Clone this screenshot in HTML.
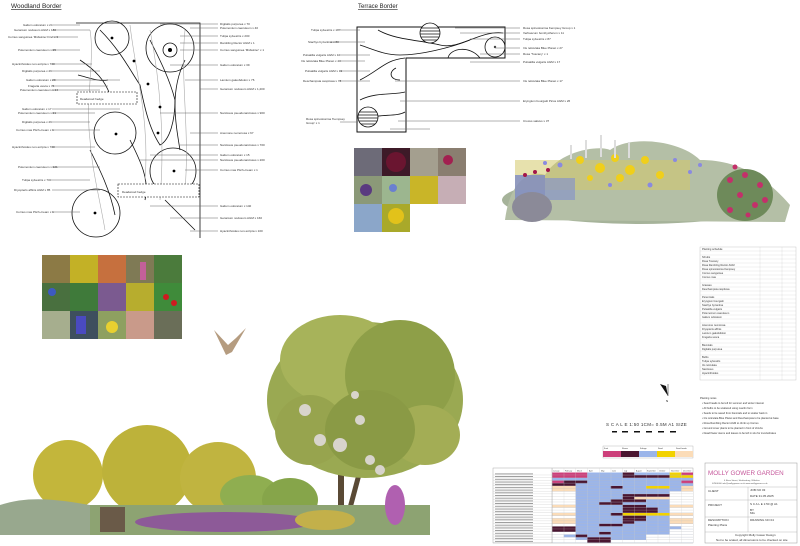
<!DOCTYPE html>
<html><head><meta charset="utf-8"><style>
html,body{margin:0;padding:0;background:#fff;}
svg{display:block;font-family:"Liberation Sans",sans-serif;}
.t{font-size:3px;fill:#333}
.l{stroke:#666;stroke-width:.5}
</style></head><body>
<svg width="800" height="546" viewBox="0 0 800 546" xmlns="http://www.w3.org/2000/svg">
<defs>
<pattern id="rl" x="0" y="472.5" width="10" height="2.7" patternUnits="userSpaceOnUse"><rect x="0" y="2.45" width="10" height=".25" fill="#bbb"/></pattern>
<pattern id="cl" x="552" y="0" width="11.75" height="10" patternUnits="userSpaceOnUse"><rect x="0" y="0" width=".25" height="10" fill="#ccc"/></pattern>
<pattern id="nm" x="494" y="472.5" width="60" height="2.7" patternUnits="userSpaceOnUse"><rect x="1" y="1" width="38" height=".8" fill="#888"/></pattern>
</defs>
<rect width="800" height="546" fill="#fff"/>
<!-- Woodland border -->
<text x="11" y="8" font-size="6.5" fill="#222" text-decoration="underline">Woodland Border</text>
<g fill="none" stroke="#111" stroke-width=".8">
<path d="M76 23 H200 V238"/>
<circle cx="112" cy="38" r="17"/><circle cx="170" cy="48" r="24"/><circle cx="170" cy="50" r="7"/>
<circle cx="115" cy="133" r="21"/><circle cx="173" cy="171" r="23"/><circle cx="96" cy="213" r="24"/>
<path d="M100 30 C120 50 130 70 140 85 C145 110 150 130 160 145 C170 140 175 120 175 100 C170 80 160 60 150 40"/>
<path d="M80 60 C95 70 105 80 110 95 M78 75 C90 78 100 82 108 80 M90 150 C100 170 110 190 115 215 M130 140 C140 160 150 180 145 200"/>
<path d="M185 60 C170 90 175 120 180 150 M165 200 C175 210 185 220 195 230"/>
</g>
<g fill="none" stroke="#aaa" stroke-width=".6">
<path d="M90 30 C95 60 85 100 90 140 C92 170 100 200 105 230"/><path d="M130 25 C135 70 150 120 145 180"/><path d="M150 30 C160 80 165 140 160 200"/><path d="M185 30 C180 80 190 130 185 190"/>
</g>
<g fill="#000"><circle cx="112" cy="38" r="1.4"/><circle cx="170" cy="50" r="2"/><circle cx="134" cy="61" r="1.4"/><circle cx="148" cy="84" r="1.4"/><circle cx="160" cy="107" r="1.4"/><circle cx="158" cy="133" r="1.4"/><circle cx="116" cy="134" r="1.4"/><circle cx="174" cy="171" r="1.4"/><circle cx="95" cy="213" r="1.4"/></g>
<rect x="77" y="92" width="60" height="12" fill="#fff" stroke="#111" stroke-width=".6" stroke-dasharray="2 1"/>
<text x="80" y="100" class="t">Deadwood hedge</text>
<rect x="118" y="184" width="81" height="13" fill="#fff" stroke="#111" stroke-width=".6" stroke-dasharray="2 1"/>
<text x="122" y="193" class="t">Deadwood hedge</text>
<g class="l">
<path d="M53 25H80M53 30H90M52 37H78M52 50H80M52 64H92M52 71H100M52 80H120M52 86H108M52 90H100M52 109H120M52 113H95M52 122H90M52 130H100M52 147H95M52 167H100M52 180H90M52 190H100M52 212H80"/>
<path d="M160 24H218M190 28H218M180 36H218M180 43H218M180 50H218M170 65H218M185 80H218M200 89H218M160 113H218M190 133H218M180 145H218M150 155H218M140 160H218M185 170H218M150 206H218M170 218H218M190 231H218"/>
</g>
<g class="t">
<text x="23" y="26">Galium odoratum x 24</text><text x="14" y="31">Geranium nodosum AGM x 180</text><text x="8" y="38">Cornus sanguinea 'Midwinter Fire' x 3</text><text x="18" y="51">Polemonium caeruleum x 25</text><text x="12" y="65">Hyacinthoides non-scripta x 700</text><text x="22" y="72">Digitalis purpurea x 29</text><text x="26" y="81">Galium odoratum x 29</text><text x="28" y="87">Fragaria vesca x 74</text><text x="20" y="91">Polemonium caeruleum x 24</text><text x="22" y="110">Galium odoratum x 17</text><text x="18" y="114">Polemonium caeruleum x 21</text><text x="22" y="123">Digitalis purpurea x 29</text><text x="16" y="131">Cornus mas Pitch-cream x 1</text><text x="12" y="148">Hyacinthoides non-scripta x 700</text><text x="18" y="168">Polemonium caeruleum x 121</text><text x="22" y="181">Tulipa sylvestris x 700</text><text x="14" y="191">Dryopteris affinis AGM x 85</text><text x="16" y="213">Cornus mas Pitch-cream x 1</text>
<text x="220" y="25">Digitalis purpurea x 70</text><text x="220" y="29">Polemonium caeruleum x 40</text><text x="220" y="37">Tulipa sylvestris x 200</text><text x="220" y="44">Rambling Rector AGM x 1</text><text x="220" y="51">Cornus sanguinea 'Midwinter' x 1</text><text x="220" y="66">Galium odoratum x 39</text><text x="220" y="81">Lamium galeobdolon x 76</text><text x="220" y="90">Geranium nodosum AGM x 1,200</text><text x="220" y="114">Narcissus pseudonarcissus x 900</text><text x="220" y="134">Anemone nemorosa x 67</text><text x="220" y="146">Narcissus pseudonarcissus x 700</text><text x="220" y="156">Galium odoratum x 15</text><text x="220" y="161">Narcissus pseudonarcissus x 200</text><text x="220" y="171">Cornus mas Pitch-cream x 1</text><text x="220" y="207">Galium odoratum x 140</text><text x="220" y="219">Geranium nodosum AGM x 160</text><text x="220" y="232">Hyacinthoides non-scripta x 100</text>
</g>
<!-- Terrace border -->
<text x="358" y="8" font-size="6" fill="#222" text-decoration="underline">Terrace Border</text>
<path d="M357 27H505V58H406V132H357Z" fill="none" stroke="#111" stroke-width="1"/>
<g fill="none" stroke="#111" stroke-width=".8">
<path d="M378 30C395 40 420 40 440 45C460 50 480 30 503 33"/><path d="M360 45C375 50 385 55 400 55C420 55 450 48 470 40"/><path d="M360 80C380 70 385 60 405 58"/><path d="M360 100C375 92 395 95 405 92"/><path d="M360 122C375 112 395 118 405 112"/><path d="M448 58C450 48 470 45 480 58"/>
<circle cx="495" cy="47" r="10"/><path d="M400 80C390 80 388 72 396 68"/>
</g>
<circle cx="495" cy="47" r="1.2" fill="#444"/>
<g fill="#fff" stroke="#111" stroke-width=".8"><circle cx="430" cy="33" r="10"/><circle cx="368" cy="117" r="10"/></g>
<g stroke="#111" stroke-width=".7"><path d="M421 28H439M420 31H440M420 34H440M421 37H439M423 40H437M359 112H377M358 115H378M358 118H378M359 121H377M361 124H375"/></g>
<g class="l"><path d="M340 30H360M330 42H365M340 55H370M340 61H365M340 71H370M340 81H370M340 122H358M455 28H520M460 33H520M470 39H520M495 48H520M480 54H520M470 62H520M395 81H520M400 101H520M398 121H520M390 129H430"/></g>
<g class="t">
<text x="311" y="31">Tulipa sylvestris x 187</text><text x="308" y="43">Stachys byzantina x 80</text><text x="303" y="56">Pulsatilla vulgaris AGM x 10</text><text x="301" y="62">Iris reticulata Blue Planet x 40</text><text x="305" y="72">Pulsatilla vulgaris AGM x 19</text><text x="303" y="82">Deschampsia cespitosa x 78</text><text x="306" y="120">Rosa spinosissima 'Kempsey</text><text x="306" y="124">Group' x 1</text>
<text x="523" y="29">Rosa spinosissima Kempsey Group x 1</text><text x="523" y="34">Verbascum bombyciferum x 11</text><text x="523" y="40">Tulipa sylvestris x 87</text><text x="523" y="49">Iris reticulata Blue Planet x 27</text><text x="523" y="55">Rosa 'Tuscany' x 1</text><text x="523" y="63">Pulsatilla vulgaris AGM x 17</text><text x="523" y="82">Iris reticulata Blue Planet x 17</text><text x="523" y="102">Eryngium bourgatii Picos AGM x 26</text><text x="523" y="122">Crocus sativus x 37</text>
</g>
<!-- Terrace photo grid -->
<g>
<rect x="354" y="148" width="28" height="28" fill="#6d6b78"/><rect x="382" y="148" width="28" height="28" fill="#3d1a28"/><circle cx="396" cy="162" r="10" fill="#6a1530"/><rect x="410" y="148" width="28" height="28" fill="#a49f8f"/><rect x="438" y="148" width="28" height="28" fill="#8a7e70"/><circle cx="448" cy="160" r="5" fill="#a22050"/>
<rect x="354" y="176" width="28" height="28" fill="#8b9978"/><circle cx="366" cy="190" r="6" fill="#5a3a80"/><rect x="382" y="176" width="28" height="28" fill="#9cb68f"/><circle cx="393" cy="188" r="4" fill="#6a80d0"/><rect x="410" y="176" width="28" height="28" fill="#c9b528"/><rect x="438" y="176" width="28" height="28" fill="#c6aeb5"/>
<rect x="354" y="204" width="28" height="28" fill="#8ba6c9"/><rect x="382" y="204" width="28" height="28" fill="#a9a92a"/><circle cx="396" cy="216" r="8" fill="#e2c21a"/>
</g>
<!-- Flower bed -->
<g>
<ellipse cx="640" cy="200" rx="138" ry="24" fill="#a6b39a"/>
<path d="M505 220 C510 180 530 170 545 175 C560 150 600 145 610 150 C630 135 680 140 700 160 C730 160 760 170 790 205 L785 222 Z" fill="#b4bfa6"/>
<rect x="515" y="160" width="175" height="30" fill="#d4c86a" opacity=".55"/>
<g fill="#f0cf1a"><circle cx="580" cy="160" r="4"/><circle cx="600" cy="168" r="5"/><circle cx="615" cy="158" r="4"/><circle cx="630" cy="170" r="5"/><circle cx="645" cy="160" r="4"/><circle cx="660" cy="175" r="4"/><circle cx="620" cy="178" r="4"/><circle cx="590" cy="178" r="3"/></g>
<g fill="#8a8ae0"><circle cx="560" cy="165" r="2.5"/><circle cx="545" cy="163" r="2"/><circle cx="650" cy="185" r="2.5"/><circle cx="675" cy="160" r="2"/><circle cx="690" cy="172" r="2"/><circle cx="700" cy="165" r="2"/><circle cx="610" cy="185" r="2"/></g>
<rect x="515" y="175" width="30" height="25" fill="#7d89c4" opacity=".8"/><rect x="545" y="178" width="30" height="22" fill="#8795c8" opacity=".7"/>
<ellipse cx="532" cy="207" rx="20" ry="15" fill="#8b8a98"/>
<ellipse cx="745" cy="195" rx="28" ry="26" fill="#6e8a5a"/>
<g fill="#c3306a"><circle cx="730" cy="180" r="3"/><circle cx="745" cy="175" r="3"/><circle cx="760" cy="185" r="3"/><circle cx="740" cy="195" r="3"/><circle cx="755" cy="205" r="3"/><circle cx="730" cy="210" r="3"/><circle cx="765" cy="200" r="3"/><circle cx="748" cy="215" r="2.5"/><circle cx="735" cy="167" r="2.5"/></g>
<g fill="#a3164a"><circle cx="525" cy="175" r="2"/><circle cx="535" cy="172" r="2"/><circle cx="548" cy="170" r="2"/></g>
<g fill="#ddd"><rect x="585" y="140" width="2" height="18"/><rect x="600" y="135" width="2" height="22"/><rect x="614" y="140" width="2" height="18"/><rect x="628" y="142" width="2" height="16"/><rect x="570" y="145" width="2" height="14"/></g>
</g>
<!-- Woodland photo grid -->
<g>
<rect x="42" y="255" width="28" height="28" fill="#8c7a45"/><rect x="70" y="255" width="28" height="28" fill="#c3b126"/><rect x="98" y="255" width="28" height="28" fill="#c6703e"/><rect x="126" y="255" width="28" height="28" fill="#7f7a55"/><rect x="140" y="262" width="6" height="18" fill="#c3609a"/><rect x="154" y="255" width="28" height="28" fill="#4b7b3c"/>
<rect x="42" y="283" width="28" height="28" fill="#49703f"/><circle cx="52" cy="292" r="4" fill="#3d5ac0"/><rect x="70" y="283" width="28" height="28" fill="#3f7a3a"/><rect x="98" y="283" width="28" height="28" fill="#7b5a90"/><rect x="126" y="283" width="28" height="28" fill="#b7ad2e"/><rect x="154" y="283" width="28" height="28" fill="#3f8b3a"/><circle cx="166" cy="297" r="3" fill="#d01a20"/><circle cx="174" cy="303" r="3" fill="#d01a20"/>
<rect x="42" y="311" width="28" height="28" fill="#a6ae8e"/><rect x="70" y="311" width="28" height="28" fill="#3e4f5e"/><rect x="76" y="316" width="10" height="18" fill="#4a4ac0"/><rect x="98" y="311" width="28" height="28" fill="#8ea060"/><circle cx="112" cy="327" r="6" fill="#e8d030"/><rect x="126" y="311" width="28" height="28" fill="#c99a8a"/><rect x="154" y="311" width="28" height="28" fill="#6a6e58"/>
</g>
<!-- Owl -->
<path d="M214 330 L228 345 L236 338 L246 328 L232 352 L226 355 Z" fill="#b59c80"/>
<!-- Tree -->
<g>
<rect x="338" y="430" width="6" height="90" fill="#5a4a35"/><rect x="355" y="440" width="5" height="80" fill="#5a4a35" transform="rotate(15 357 480)"/>
<ellipse cx="365" cy="400" rx="98" ry="78" fill="#9aa952"/>
<ellipse cx="340" cy="360" rx="60" ry="45" fill="#a7b35a"/><ellipse cx="400" cy="375" rx="55" ry="55" fill="#8e9f48"/>
<ellipse cx="310" cy="430" rx="35" ry="35" fill="#97a44e"/><ellipse cx="425" cy="435" rx="35" ry="30" fill="#a3ad55"/>
<ellipse cx="370" cy="430" rx="45" ry="40" fill="#8a9a45"/>
<g fill="#d8d4cc"><circle cx="305" cy="410" r="6"/><circle cx="320" cy="440" r="6"/><circle cx="340" cy="445" r="7"/><circle cx="360" cy="420" r="5"/><circle cx="370" cy="460" r="5"/><circle cx="380" cy="470" r="5"/><circle cx="355" cy="395" r="4"/></g>
</g>
<!-- Shrubs -->
<g>
<ellipse cx="68" cy="475" rx="35" ry="35" fill="#c3b63b"/>
<ellipse cx="147" cy="470" rx="45" ry="45" fill="#bdb23a"/>
<ellipse cx="218" cy="478" rx="38" ry="36" fill="#c0b440"/>
<ellipse cx="250" cy="495" rx="30" ry="20" fill="#8fae50"/><ellipse cx="290" cy="500" rx="28" ry="22" fill="#86a54a"/>
<rect x="20" y="505" width="410" height="30" fill="#8da372"/>
<path d="M0 505 C30 495 60 500 90 505 L90 535 L0 535 Z" fill="#98a88e"/>
<ellipse cx="225" cy="522" rx="90" ry="10" fill="#8d5a98"/>
<rect x="100" y="507" width="25" height="25" fill="#6a5a48"/>
<ellipse cx="395" cy="505" rx="10" ry="20" fill="#b060b0"/>
<ellipse cx="325" cy="520" rx="30" ry="10" fill="#c3b04a"/>
</g>
<!-- Planting schedule -->
<g font-size="2.6" fill="#333">
<rect x="700" y="247" width="96" height="133" fill="none" stroke="#bbb" stroke-width=".4"/>
<g stroke="#ccc" stroke-width=".3">
<path d="M700 251H796M700 255H796M700 259H796M700 263H796M700 267H796M700 271H796M700 275H796M700 279H796M700 283H796M700 287H796M700 291H796M700 295H796M700 299H796M700 303H796M700 307H796M700 311H796M700 315H796M700 319H796M700 323H796M700 327H796M700 331H796M700 335H796M700 339H796M700 343H796M700 347H796M700 351H796M700 355H796M700 359H796M700 363H796M700 367H796M700 371H796M700 375H796"/>
<path d="M760 247V380M782 247V380"/>
</g>
<text x="702" y="250">Planting schedule</text><text x="702" y="258">Shrubs</text><text x="702" y="262">Rosa Tuscany</text><text x="702" y="266">Rosa Rambling Rector AGM</text><text x="702" y="270">Rosa spinosissima Kempsey</text><text x="702" y="274">Cornus sanguinea</text><text x="702" y="278">Cornus mas</text><text x="702" y="286">Grasses</text><text x="702" y="290">Deschampsia cespitosa</text><text x="702" y="298">Perennials</text><text x="702" y="302">Eryngium bourgatii</text><text x="702" y="306">Stachys byzantina</text><text x="702" y="310">Pulsatilla vulgaris</text><text x="702" y="314">Polemonium caeruleum</text><text x="702" y="318">Galium odoratum</text><text x="702" y="326">Anemone nemorosa</text><text x="702" y="330">Dryopteris affinis</text><text x="702" y="334">Lamium galeobdolon</text><text x="702" y="338">Fragaria vesca</text><text x="702" y="346">Biennials</text><text x="702" y="350">Digitalis purpurea</text><text x="702" y="358">Bulbs</text><text x="702" y="362">Tulipa sylvestris</text><text x="702" y="366">Iris reticulata</text><text x="702" y="370">Narcissus</text><text x="702" y="374">Hyacinthoides</text>
</g>
<!-- Notes -->
<g font-size="2.6" fill="#333">
<text x="700" y="399">Planting notes</text>
<text x="702" y="404">• Seed heads to be left for summer and winter interest</text>
<text x="702" y="409">• All bulbs to be scattered using naurlin form</text>
<text x="702" y="414">• Seeds to be saved from biennials and to scatter back in</text>
<text x="702" y="419">• Iris reticulata Blue Planet and Deschampsia to be planted at base</text>
<text x="702" y="424">• Rosa Rambling Rector AGM to climb up Cornus</text>
<text x="702" y="429">• Ground cover plants to be planted in front of shrubs</text>
<text x="702" y="434">• Dead flower stems and leaves to be left in situ for invertebrates</text>
</g>
<!-- North arrow -->
<path d="M660 384 L668 396 L666 386 Z" fill="#111"/><path d="M668 384 L668 396" stroke="#111" stroke-width=".5"/><text x="666" y="402" font-size="3">N</text>
<!-- Scale -->
<text x="606" y="426" font-size="4.5" fill="#333" letter-spacing=".3">S C A L E  1:50 1CM= 0.5M  A1 SIZE</text>
<g fill="#111"><rect x="612" y="431" width="5" height="1.5"/><rect x="622" y="431" width="6" height="1.5"/><rect x="634" y="431" width="6" height="1.5"/><rect x="646" y="431" width="6" height="1.5"/><rect x="658" y="431" width="6" height="1.5"/><rect x="670" y="431" width="6" height="1.5"/></g>
<!-- Legend -->
<g>
<rect x="603" y="446" width="90" height="12" fill="none" stroke="#aaa" stroke-width=".4"/>
<rect x="603" y="451" width="18" height="6" fill="#cc3f7a"/><rect x="621" y="451" width="18" height="6" fill="#4a1530"/><rect x="639" y="451" width="18" height="6" fill="#9bb5ea"/><rect x="657" y="451" width="18" height="6" fill="#f2d200"/><rect x="675" y="451" width="18" height="6" fill="#fbdcb8"/>
<g font-size="2" fill="#333"><text x="604" y="449">Fruit</text><text x="622" y="449">Flower</text><text x="640" y="449">Foliage</text><text x="658" y="449">Seed</text><text x="676" y="449">Seed heads</text></g>
</g>
<!-- Month grid -->
<g>
<rect x="493" y="468" width="200" height="75" fill="#fff" stroke="#999" stroke-width=".4"/>
<rect x="493" y="472.5" width="59" height="70.2" fill="url(#nm)"/>
<rect x="552" y="472.5" width="141" height="70.2" fill="#9bb5ea"/>
<g fill="#fff">
<rect x="552" y="477.9" width="0" height="0"/>
<rect x="552" y="491.4" width="23.5" height="16.2"/><rect x="669.5" y="491.4" width="23.5" height="16.2"/>
<rect x="552" y="507.6" width="23.5" height="5.4"/><rect x="669.5" y="507.6" width="23.5" height="5.4"/>
<rect x="552" y="515.7" width="23.5" height="2.7"/><rect x="669.5" y="515.7" width="23.5" height="2.7"/>
<rect x="552" y="523.8" width="23.5" height="2.7"/><rect x="669.5" y="523.8" width="23.5" height="2.7"/>
<rect x="681.25" y="526.5" width="11.75" height="2.7"/><rect x="669.5" y="529.2" width="23.5" height="2.7"/>
<rect x="552" y="531.9" width="23.5" height="2.7"/><rect x="669.5" y="531.9" width="23.5" height="2.7"/>
<rect x="552" y="534.6" width="11.75" height="2.7"/><rect x="646" y="534.6" width="47" height="2.7"/>
<rect x="552" y="537.3" width="23.5" height="2.7"/><rect x="646" y="537.3" width="47" height="2.7"/>
<rect x="552" y="540" width="35.25" height="2.7"/><rect x="610.75" y="540" width="82.25" height="2.7"/>
</g>
<g fill="#fbdcb8">
<rect x="552" y="486" width="23.5" height="5.4"/><rect x="681.25" y="486" width="11.75" height="5.4"/>
<rect x="552" y="504.9" width="23.5" height="2.7"/><rect x="669.5" y="504.9" width="23.5" height="2.7"/>
<rect x="552" y="513" width="23.5" height="2.7"/><rect x="669.5" y="513" width="23.5" height="2.7"/>
<rect x="552" y="518.4" width="23.5" height="5.4"/><rect x="669.5" y="518.4" width="23.5" height="5.4"/>
<rect x="634.25" y="496.8" width="35.25" height="2.7"/>
</g>
<g fill="#cc3f7a">
<rect x="552" y="472.5" width="35.25" height="5.4"/><rect x="681.25" y="472.5" width="11.75" height="2.7"/>
<rect x="552" y="480.6" width="11.75" height="2.7"/><rect x="681.25" y="480.6" width="11.75" height="2.7"/>
</g>
<g fill="#f2d200">
<rect x="669.5" y="472.5" width="11.75" height="2.7"/><rect x="669.5" y="475.2" width="23.5" height="2.7"/>
<rect x="646" y="486" width="23.5" height="2.7"/><rect x="622.5" y="513" width="47" height="2.7"/>
</g>
<g fill="#4a1530">
<rect x="622.5" y="472.5" width="11.75" height="2.7"/><rect x="622.5" y="475.2" width="47" height="2.7"/>
<rect x="563.75" y="480.6" width="23.5" height="2.7"/><rect x="552" y="483.3" width="23.5" height="2.7"/>
<rect x="610.75" y="486" width="11.75" height="2.7"/>
<rect x="622.5" y="494.1" width="47" height="2.7"/><rect x="622.5" y="496.8" width="11.75" height="2.7"/>
<rect x="610.75" y="499.5" width="35.25" height="2.7"/><rect x="599" y="502.2" width="23.5" height="2.7"/>
<rect x="622.5" y="504.9" width="23.5" height="2.7"/><rect x="622.5" y="507.6" width="35.25" height="5.4"/>
<rect x="610.75" y="513" width="11.75" height="2.7"/><rect x="622.5" y="515.7" width="23.5" height="5.4"/>
<rect x="622.5" y="521.1" width="11.75" height="2.7"/><rect x="599" y="523.8" width="23.5" height="2.7"/>
<rect x="552" y="526.5" width="23.5" height="5.4"/><rect x="599" y="531.9" width="11.75" height="2.7"/>
<rect x="575.5" y="534.6" width="11.75" height="2.7"/><rect x="587.25" y="537.3" width="23.5" height="5.4"/>
</g>
<rect x="493" y="472.5" width="200" height="70.2" fill="url(#rl)"/>
<rect x="552" y="468" width="141" height="74.7" fill="url(#cl)"/>
<path d="M552 468V543" stroke="#999" stroke-width=".4"/>
<g font-size="1.8" fill="#444"><text x="553" y="471.5">January</text><text x="565" y="471.5">February</text><text x="577" y="471.5">March</text><text x="589" y="471.5">April</text><text x="601" y="471.5">May</text><text x="612" y="471.5">June</text><text x="624" y="471.5">July</text><text x="636" y="471.5">August</text><text x="647" y="471.5">September</text><text x="659" y="471.5">October</text><text x="671" y="471.5">November</text><text x="683" y="471.5">December</text></g>
</g>
<!-- Title block -->
<g>
<rect x="705" y="463" width="92" height="80" fill="#fff" stroke="#999" stroke-width=".5"/>
<text x="708" y="475" font-size="6.3" fill="#c5569a">MOLLY GOWER GARDEN</text>
<g font-size="2.2" fill="#555"><text x="724" y="481">6 Rose Street, Shaftesbury, Wiltshire</text><text x="712" y="484">07800000 info@mollygower.co.uk www.mollygower.co.uk</text></g>
<path d="M705 487H797M705 500H797M705 517H797M705 532H797M748 487V532" stroke="#aaa" stroke-width=".4"/>
<g font-size="3" fill="#333"><text x="708" y="492">CLIENT</text><text x="750" y="491">JOB NO  03</text><text x="750" y="497">DATE    31.05.2025</text><text x="708" y="506">PROJECT</text><text x="750" y="505">S C A L E  1:50 @ A1</text><text x="750" y="511">BY</text><text x="750" y="514">MG</text><text x="708" y="521">DESCRIPTION</text><text x="750" y="521">DRAWING NO  04</text><text x="708" y="526">Planting Plans</text><text x="735" y="536">Copyright Molly Gower Design</text><text x="716" y="541">Not to be scaled, all dimensions to be checked on site</text></g>
</g>
</svg>
</body></html>
